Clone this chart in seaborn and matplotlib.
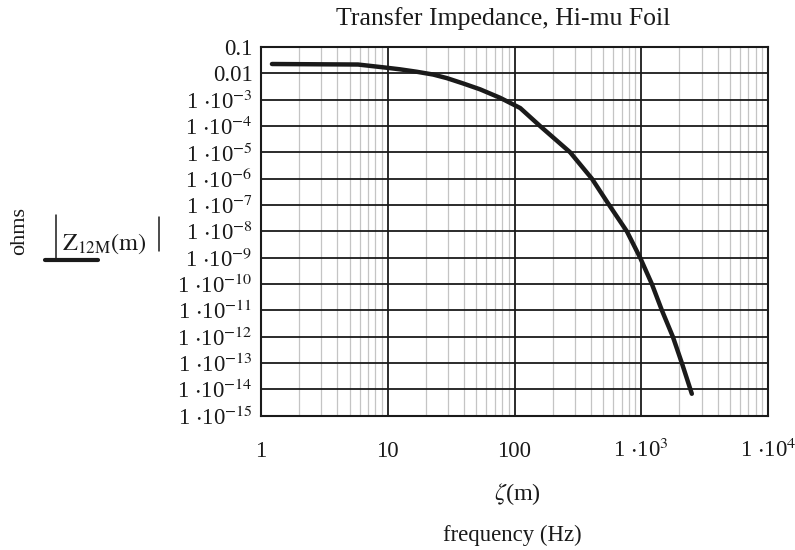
import numpy as np
import pandas as pd
import seaborn as sns
import matplotlib
matplotlib.use("Agg")
import matplotlib.pyplot as plt
from matplotlib.ticker import LogLocator, NullLocator, NullFormatter
from matplotlib.lines import Line2D

# ---- data ----
freq_hz = [1.22, 5.83, 9.52, 12.5, 16.9, 22.8, 29.2, 39.5, 53.5, 76.9, 101,
           111, 159, 275, 408, 558, 770, 980, 1213, 1455, 1775, 2091, 2506]
z12m_ohms = [2.26e-2, 2.16e-2, 1.66e-2, 1.42e-2, 1.15e-2, 9.0e-3, 6.6e-3,
             4.1e-3, 2.47e-3, 1.18e-3, 6.07e-4, 4.8e-4, 1.0e-4, 1.0e-5, 1.0e-6,
             1.0e-7, 1.0e-8, 1.0e-9, 1.0e-10, 1.0e-11, 1.0e-12, 1.0e-13,
             6.8e-15]

x_ticks = [1, 10, 100, 1e3, 1e4]
x_tick_labels = ["1", "10", "100", r"1 $\cdot$10$^{3}$", r"1 $\cdot$10$^{4}$"]
y_exponents = list(range(-1, -16, -1))
y_tick_labels = ["0.1", "0.01"] + [r"1 $\cdot$10$^{-%d}$" % (-e) for e in y_exponents[2:]]

title = "Transfer Impedance, Hi-mu Foil"

sns.set_theme(style="white")
plt.rcParams["font.family"] = ["Liberation Serif", "DejaVu Serif"]
plt.rcParams["mathtext.fontset"] = "stix"

df = pd.DataFrame({"freq": freq_hz, "z": z12m_ohms})

W, H = 795, 550
fig = plt.figure(figsize=(W / 100, H / 100), dpi=100)
left, right, top, bottom = 261, 768, 47, 415.7
ax = fig.add_axes([left / W, 1 - bottom / H, (right - left) / W, (bottom - top) / H])

sns.lineplot(data=df, x="freq", y="z", ax=ax, color="#1a1a1a", lw=3.2,
             estimator=None, sort=False, solid_capstyle="round",
             solid_joinstyle="round")

ax.set_xscale("log")
ax.set_yscale("log")
ax.set_xlim(1, 1e4)
ax.set_ylim(1e-15, 0.1)

ax.set_xticks(x_ticks, labels=x_tick_labels, va="baseline")
ax.xaxis.set_minor_locator(LogLocator(base=10, subs=np.arange(2, 10)))
ax.xaxis.set_minor_formatter(NullFormatter())
ax.set_yticks([10.0 ** e for e in y_exponents], labels=y_tick_labels)
ax.yaxis.set_minor_locator(NullLocator())

ax.tick_params(axis="both", which="both", length=0, labelsize=16.5, colors="#1a1a1a")
ax.tick_params(axis="x", pad=30)
ax.tick_params(axis="y", pad=6)

ax.grid(True, which="major", color="#1a1a1a", lw=1.3)
ax.grid(True, which="minor", axis="x", color="#c4c4c4", lw=0.9)
ax.set_axisbelow(True)
for s in ax.spines.values():
    s.set_visible(True)
    s.set_color("#1a1a1a")
    s.set_linewidth(1.5)

ax.set_xlabel("")
ax.set_ylabel("")

def fx(px):
    return px / W

def fy(py):
    return 1 - py / H

fig.text(fx(503), fy(18.5), title, ha="center", va="center", fontsize=18.5, color="#1a1a1a")
fig.text(fx(517), fy(494), r"$\zeta$(m)", ha="center", va="center", fontsize=17.5, color="#1a1a1a")
fig.text(fx(512), fy(535), "frequency (Hz)", ha="center", va="center", fontsize=16.4, color="#1a1a1a")
fig.text(fx(20), fy(231), "ohms", ha="center", va="center", rotation=90, fontsize=16, color="#1a1a1a")
fig.text(fx(62), fy(250), r"$\mathrm{Z}_{\mathrm{12M}}\mathrm{(m)}$", ha="left", va="baseline",
         fontsize=17.5, color="#1a1a1a")
# absolute-value bars and underline of the Mathcad-style label
fig.add_artist(Line2D([fx(56), fx(56)], [fy(215), fy(260)], color="#1a1a1a", lw=1.1))
fig.add_artist(Line2D([fx(159), fx(159)], [fy(217), fy(251)], color="#1a1a1a", lw=1.1))
fig.add_artist(Line2D([fx(45), fx(98)], [fy(260), fy(260)], color="#1a1a1a", lw=3,
                      solid_capstyle="round"))

fig.savefig("out.png", dpi=100, facecolor="white")
